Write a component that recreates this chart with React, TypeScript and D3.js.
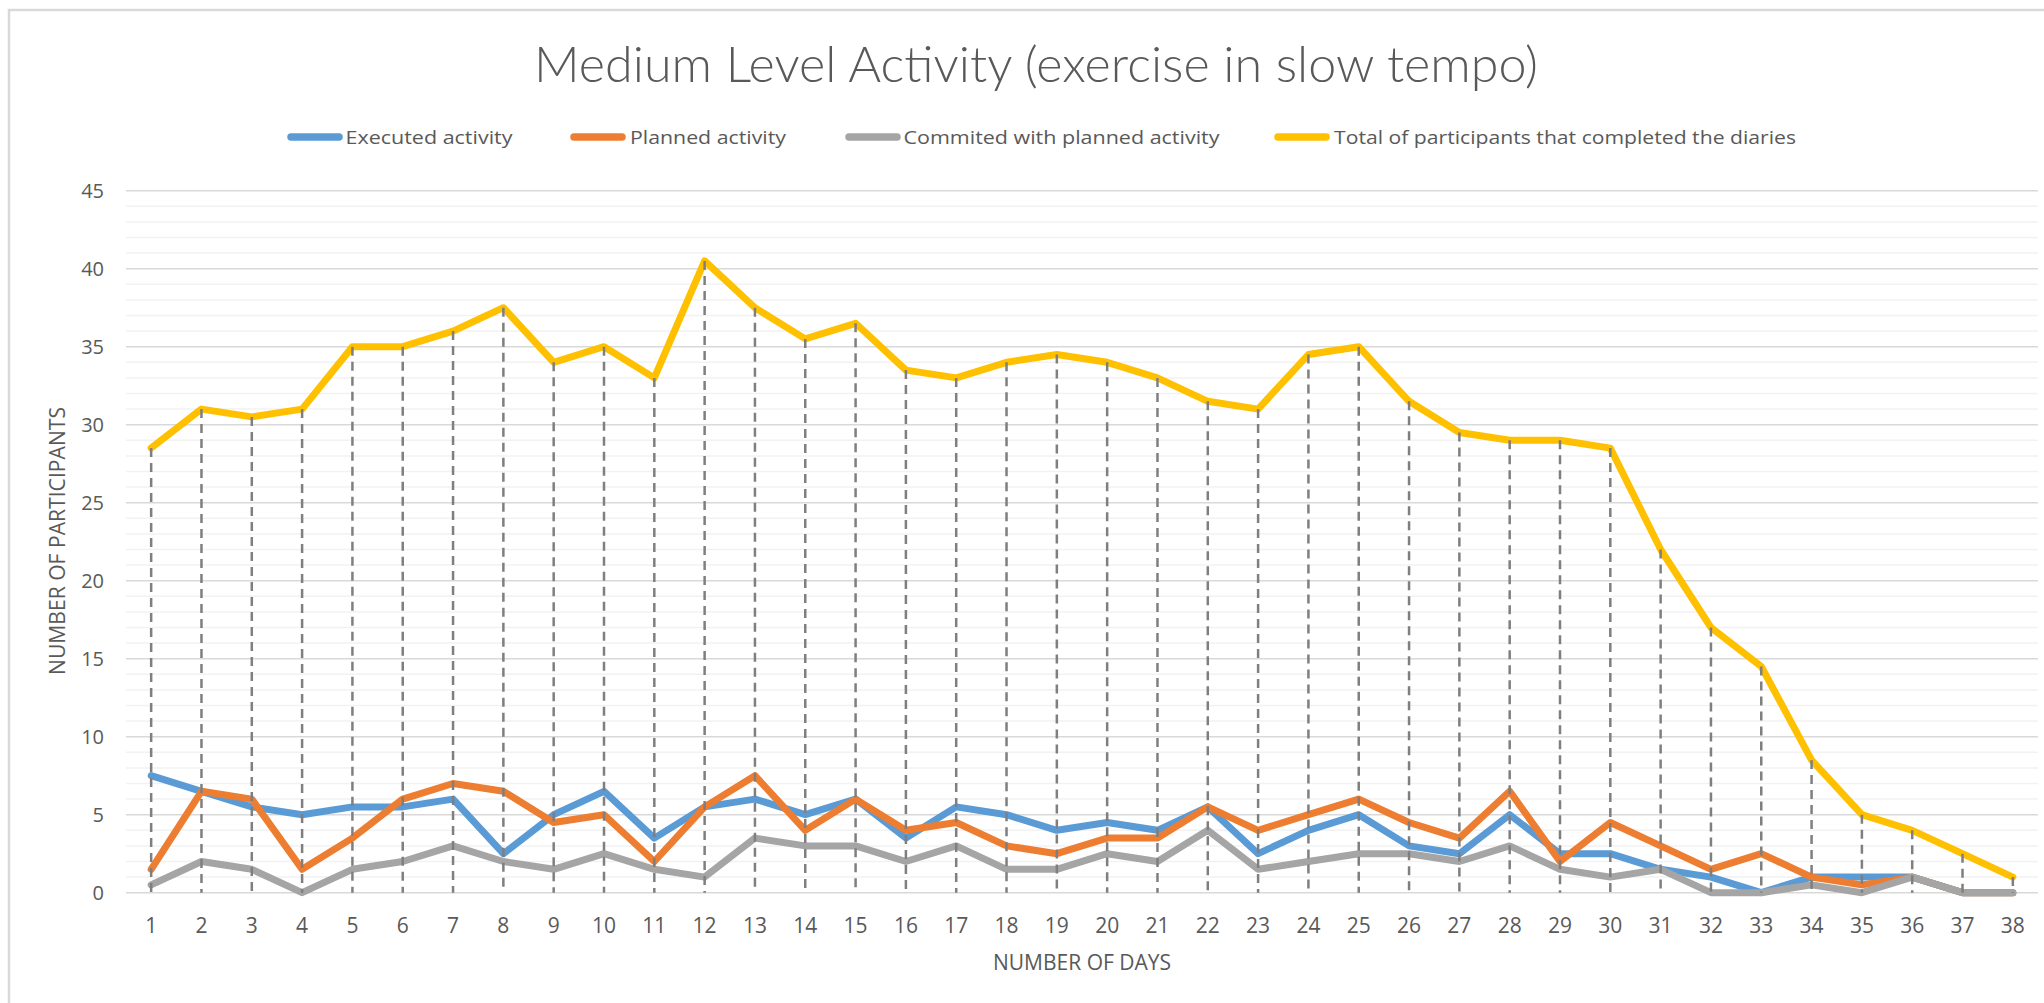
import React from "react";
import * as d3 from "d3";

const days = d3.range(1, 39).map(String);
const executed = [7.5,6.5,5.5,5,5.5,5.5,6,2.5,5,6.5,3.5,5.5,6,5,6,3.5,5.5,5,4,4.5,4,5.5,2.5,4,5,3,2.5,5,2.5,2.5,1.5,1,0,1,1,1,0,0];
const planned = [1.5,6.5,6,1.5,3.5,6,7,6.5,4.5,5,2,5.5,7.5,4,6,4,4.5,3,2.5,3.5,3.5,5.5,4,5,6,4.5,3.5,6.5,2,4.5,3,1.5,2.5,1,0.5,1,0,0];
const committed = [0.5,2,1.5,0,1.5,2,3,2,1.5,2.5,1.5,1,3.5,3,3,2,3,1.5,1.5,2.5,2,4,1.5,2,2.5,2.5,2,3,1.5,1,1.5,0,0,0.5,0,1,0,0];
const total = [28.5,31,30.5,31,35,35,36,37.5,34,35,33,40.5,37.5,35.5,36.5,33.5,33,34,34.5,34,33,31.5,31,34.5,35,31.5,29.5,29,29,28.5,22,17,14.5,8.5,5,4,2.5,1];
const seriesNames = ["Executed activity", "Planned activity", "Commited with planned activity", "Total of participants that completed the diaries"];
const yTicks = [0, 5, 10, 15, 20, 25, 30, 35, 40, 45];

const colors = ["#5B9BD5", "#ED7D31", "#A5A5A5", "#FFC000"];
const legendSwatchX = [287, 570, 845, 1274];
const legendTextX = [345.5, 630, 903.5, 1334];
const legendTextW = [167, 156, 316, 462];

export default function App() {
  const W = 2044, H = 1003;
  const x = d3.scalePoint<string>().domain(days).range([126, 2038]).padding(0.5);
  const y = d3.scaleLinear().domain([0, 45]).range([892.7, 190.7]);
  const series = [executed, planned, committed, total];
  const line = d3.line<number>().x((_, i) => x(days[i])!).y((d) => y(d));
  const minor = d3.range(0, 46).filter((v) => v % 5 !== 0);
  const textColor = "#595959";
  const font = "'Open Sans', 'Noto Sans', sans-serif";

  return (
    <svg width={W} height={H} style={{ position: "absolute", left: 0, top: 0, background: "#fff" }}>
      <rect x={0} y={0} width={W} height={H} fill="#fff" />
      <rect x={9} y={10} width={W + 20} height={H + 20} fill="none" stroke="#d9d9d9" strokeWidth={2.5} />
      {/* title */}
      <text x={534} y={82} fontFamily="Lato, 'Open Sans', sans-serif" fontWeight={300} fontSize={49} fill={textColor}
        textLength={1004} lengthAdjust="spacingAndGlyphs">
        Medium Level Activity (exercise in slow tempo)
      </text>
      {/* legend */}
      {seriesNames.map((n, i) => (
        <g key={n}>
          <line x1={legendSwatchX[i] + 4} x2={legendSwatchX[i] + 52} y1={137} y2={137} stroke={colors[i]} strokeWidth={7.5} strokeLinecap="round" />
          <text x={legendTextX[i]} y={143.5} fontFamily={font} fontSize={18} fill={textColor}
            textLength={legendTextW[i]} lengthAdjust="spacingAndGlyphs">{n}</text>
        </g>
      ))}
      {/* gridlines */}
      {minor.map((v) => (
        <line key={"m" + v} x1={126} x2={2038} y1={y(v)} y2={y(v)} stroke="#f2f2f2" strokeWidth={1.5} />
      ))}
      {yTicks.map((v) => (
        <line key={"g" + v} x1={126} x2={2038} y1={y(v)} y2={y(v)} stroke="#d9d9d9" strokeWidth={1.5} />
      ))}
      {/* y labels */}
      {yTicks.map((v) => (
        <text key={"yl" + v} x={104} y={y(v)} dy="0.36em" textAnchor="end" fontFamily={font} fontSize={20} fill={textColor}>{v}</text>
      ))}
      {/* x labels */}
      {days.map((d) => (
        <text key={"xl" + d} x={x(d)!} y={925} dy="0.36em" textAnchor="middle" fontFamily={font} fontSize={21} fill={textColor}>{d}</text>
      ))}
      {/* axis titles */}
      <text x={1082} y={962} dy="0.36em" textAnchor="middle" fontFamily={font} fontSize={21} fill={textColor}
        textLength={178} lengthAdjust="spacingAndGlyphs">NUMBER OF DAYS</text>
      <text transform="translate(57,541) rotate(-90)" x={0} y={0} dy="0.36em" textAnchor="middle" fontFamily={font} fontSize={21} fill={textColor}
        textLength={268} lengthAdjust="spacingAndGlyphs">NUMBER OF PARTICIPANTS</text>
      {/* series */}
      {series.map((s, i) => (
        <path key={"s" + i} d={line(s)!} fill="none" stroke={colors[i]} strokeWidth={7} strokeLinejoin="round" strokeLinecap="round" />
      ))}
      {/* drop lines */}
      {days.map((d, i) => {
        const top = Math.max(executed[i], planned[i], committed[i], total[i]);
        return (
          <line key={"dl" + d} x1={x(d)!} x2={x(d)!} y1={y(top)} y2={y(0)} stroke="#7f7f7f" strokeWidth={2.5} strokeDasharray="9,6" />
        );
      })}
    </svg>
  );
}
